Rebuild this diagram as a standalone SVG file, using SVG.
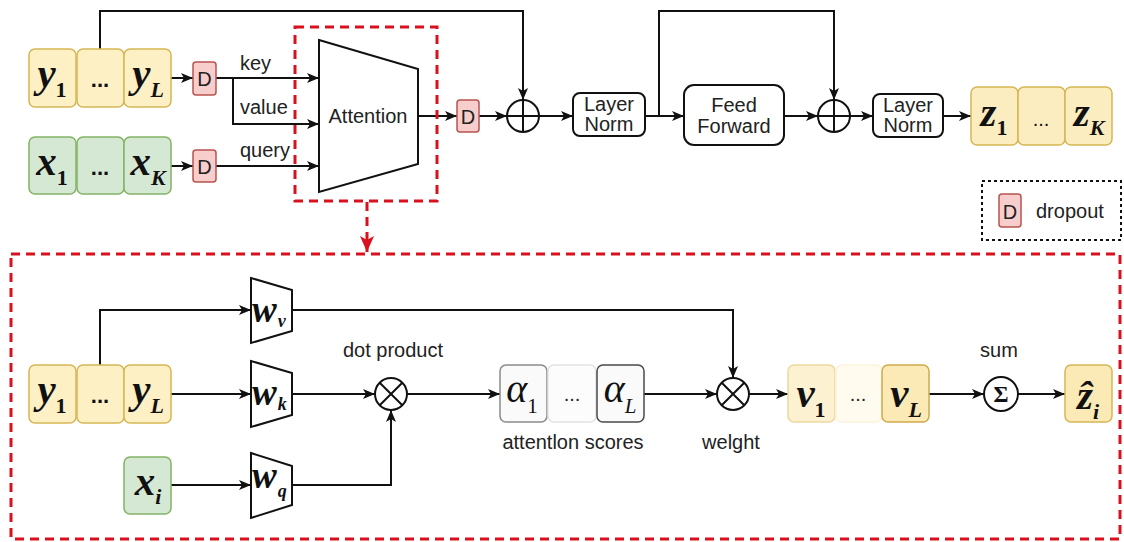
<svg xmlns="http://www.w3.org/2000/svg" width="1124" height="542" viewBox="0 0 1124 542">
<defs>
<marker id="ah" viewBox="0 0 12 10" refX="12" refY="5" markerWidth="12" markerHeight="10" orient="auto" markerUnits="userSpaceOnUse"><path d="M0,0 L12,5 L0,10 L3,5 z" fill="#111"/></marker>
<marker id="ahr" viewBox="0 0 16 14" refX="16" refY="7" markerWidth="16" markerHeight="14" orient="auto" markerUnits="userSpaceOnUse"><path d="M0,0 L16,7 L0,14 L4,7 z" fill="#d9101d"/></marker>
<style>
.ln{fill:none;stroke:#111;stroke-width:2;marker-end:url(#ah)}
.nl{fill:none;stroke:#111;stroke-width:2}
.red{fill:none;stroke:#d9101d;stroke-width:3;stroke-dasharray:9 6}
.yb{fill:#fdf0c4;stroke:#d6b656;stroke-width:1.5}
.gb{fill:#d5e8d4;stroke:#82b366;stroke-width:1.5}
.db{fill:#f8cecc;stroke:#b85450;stroke-width:1.5}
.bx{fill:#fff;stroke:#111;stroke-width:2}
.m{font-family:"Liberation Serif","Times New Roman",serif;font-weight:bold;font-style:italic;font-size:41px;text-anchor:middle;fill:#111}
.s{font-size:22px;font-style:normal}
.si{font-size:22px}
.w{font-family:"Liberation Serif","Times New Roman",serif;font-weight:bold;font-style:italic;font-size:37px;fill:#111}
.ws{font-size:18px}
.dots{font-family:"Liberation Sans",Arial,sans-serif;font-weight:bold;font-size:22px;text-anchor:middle;fill:#111}
.lt{font-family:"Liberation Sans",Arial,sans-serif;font-size:20px;fill:#222}
.c{text-anchor:middle}
.al{font-family:"Liberation Serif","Times New Roman",serif;font-style:italic;font-size:40px;text-anchor:middle;fill:#111}
</style>
</defs>

<g id="connectors">
<path class="ln" d="M171 78 H193"/>
<path class="ln" d="M216 78 H319"/>
<path class="ln" d="M233 78 V124 H319"/>
<path class="ln" d="M171 166 H193"/>
<path class="ln" d="M216 166 H319"/>
<path class="ln" d="M418 116 H457"/>
<path class="ln" d="M479 116 H507"/>
<path class="ln" d="M100 49 V11 H523 V100"/>
<path class="ln" d="M539 116 H573"/>
<path class="ln" d="M645 116 H684"/>
<path class="ln" d="M659 116 V11 H834 V100"/>
<path class="ln" d="M784 116 H818"/>
<path class="ln" d="M850 116 H873"/>
<path class="ln" d="M943 116 H971"/>
<path class="red" d="M367 202 V252" marker-end="url(#ahr)"/>
<path class="ln" d="M100 365 V310 H251"/>
<path class="ln" d="M171 394 H251"/>
<path class="ln" d="M171 485 H251"/>
<path class="ln" d="M292 394 H375"/>
<path class="ln" d="M292 485 H391 V410"/>
<path class="ln" d="M407 394 H500"/>
<path class="ln" d="M644 394 H717"/>
<path class="ln" d="M292 310 H733 V378"/>
<path class="ln" d="M749 394 H788"/>
<path class="ln" d="M929 394 H984"/>
<path class="ln" d="M1018 394 H1065"/>
</g>

<g id="label-key"><text class="lt" x="240" y="70">key</text></g>
<g id="label-value"><text class="lt" x="240" y="114">value</text></g>
<g id="label-query"><text class="lt" x="240" y="157">query</text></g>

<g id="y-top">
<rect class="yb" x="29" y="49" width="47" height="58" rx="6"/>
<rect class="yb" x="77" y="49" width="47" height="58" rx="6"/>
<rect class="yb" x="124" y="49" width="47" height="58" rx="6"/>
<text class="m" x="52" y="87">y<tspan class="s" dy="10">1</tspan></text>
<text class="dots" x="100" y="87">...</text>
<text class="m" x="148" y="87">y<tspan class="si" dy="10">L</tspan></text>
</g>

<g id="x-top">
<rect class="gb" x="29" y="137" width="47" height="57" rx="6"/>
<rect class="gb" x="77" y="137" width="47" height="57" rx="6"/>
<rect class="gb" x="124" y="137" width="47" height="57" rx="6"/>
<text class="m" x="52" y="175">x<tspan class="s" dy="10">1</tspan></text>
<text class="dots" x="100" y="175">...</text>
<text class="m" x="148" y="175">x<tspan class="si" dy="10">K</tspan></text>
</g>

<g id="dropout-y">
<rect class="db" x="193" y="62" width="23" height="33" rx="3"/>
<text class="lt c" x="204.5" y="86" fill="#111" font-size="21">D</text>
</g>
<g id="dropout-x">
<rect class="db" x="193" y="150" width="23" height="32" rx="3"/>
<text class="lt c" x="204.5" y="174" font-size="21">D</text>
</g>

<g id="attention-frame">
<rect class="red" x="295" y="27" width="142" height="174"/>
</g>
<g id="attention">
<polygon class="bx" points="319,40 418,69 418,164 319,192"/>
<text class="lt c" x="368" y="123" fill="#111">Attention</text>
</g>

<g id="dropout-att">
<rect class="db" x="457" y="100" width="22" height="32" rx="3"/>
<text class="lt c" x="468" y="124" font-size="21">D</text>
</g>

<g id="add1">
<circle class="bx" cx="523" cy="116" r="16"/>
<path class="nl" d="M523 100 V132 M507 116 H539"/>
</g>

<g id="layernorm1">
<rect class="bx" x="573" y="93" width="72" height="43" rx="7"/>
<text class="lt c" x="609" y="111" fill="#111">Layer</text>
<text class="lt c" x="609" y="131" fill="#111">Norm</text>
</g>

<g id="feedforward">
<rect class="bx" x="684" y="85" width="100" height="60" rx="10"/>
<text class="lt c" x="734" y="112" fill="#111">Feed</text>
<text class="lt c" x="734" y="133" fill="#111">Forward</text>
</g>

<g id="add2">
<circle class="bx" cx="834" cy="116" r="16"/>
<path class="nl" d="M834 100 V132 M818 116 H850"/>
</g>

<g id="layernorm2">
<rect class="bx" x="873" y="94" width="70" height="43" rx="7"/>
<text class="lt c" x="908" y="112" fill="#111">Layer</text>
<text class="lt c" x="908" y="132" fill="#111">Norm</text>
</g>

<g id="z-out">
<rect class="yb" x="971" y="87" width="47" height="58" rx="6" style="fill:#fbedbf"/>
<rect class="yb" x="1018" y="87" width="47" height="58" rx="6" style="fill:#fbedbf"/>
<rect class="yb" x="1065" y="87" width="47" height="58" rx="6" style="fill:#fbedbf"/>
<text class="m" x="994" y="126">z<tspan class="s" dy="9">1</tspan></text>
<text class="dots" x="1041" y="126" style="font-weight:normal;font-size:20px">...</text>
<text class="m" x="1089" y="126">z<tspan class="si" dy="9">K</tspan></text>
</g>

<g id="legend">
<rect x="982" y="181" width="139" height="59" fill="none" stroke="#111" stroke-width="2" stroke-dasharray="3 3"/>
<rect class="db" x="999" y="194" width="22" height="33" rx="3"/>
<text class="lt c" x="1010" y="219" fill="#111" font-size="21">D</text>
<text class="lt" x="1036" y="218" fill="#111">dropout</text>
</g>

<g id="detail-frame">
<rect class="red" x="11" y="254" width="1109" height="285"/>
</g>

<g id="y-bottom">
<rect class="yb" x="29" y="365" width="47" height="58" rx="6"/>
<rect class="yb" x="77" y="365" width="47" height="58" rx="6"/>
<rect class="yb" x="124" y="365" width="47" height="58" rx="6"/>
<text class="m" x="52" y="403">y<tspan class="s" dy="10">1</tspan></text>
<text class="dots" x="100" y="403">...</text>
<text class="m" x="148" y="403">y<tspan class="si" dy="10">L</tspan></text>
</g>

<g id="x-i">
<rect class="gb" x="124" y="457" width="47" height="57" rx="6"/>
<text class="m" x="148" y="495">x<tspan class="si" dy="9">i</tspan></text>
</g>

<g id="w-v">
<polygon class="bx" points="251,278 292,290 292,331 251,343"/>
<text class="w" x="252" y="322">w<tspan class="ws" dx="1" dy="5">v</tspan></text>
</g>
<g id="w-k">
<polygon class="bx" points="251,361 292,373 292,415 251,427"/>
<text class="w" x="252" y="405">w<tspan class="ws" dx="1" dy="5">k</tspan></text>
</g>
<g id="w-q">
<polygon class="bx" points="251,453 292,466 292,505 251,518"/>
<text class="w" x="252" y="488">w<tspan class="ws" dx="1" dy="9">q</tspan></text>
</g>

<g id="dot-product">
<circle class="bx" cx="391" cy="394" r="16"/>
<path class="nl" d="M379.7 382.7 L402.3 405.3 M402.3 382.7 L379.7 405.3"/>
<text class="lt c" x="393" y="357">dot product</text>
</g>

<g id="attention-scores">
<rect x="500" y="365" width="47" height="57" rx="6" fill="#fafafa" stroke="#8a8a8a" stroke-width="1.5"/>
<rect x="548" y="365" width="48" height="57" rx="6" fill="#fcfcfc" stroke="#e2e2e2" stroke-width="1.5"/>
<rect x="597" y="365" width="47" height="57" rx="6" fill="#fafafa" stroke="#4a4a4a" stroke-width="1.5"/>
<text class="al" x="522" y="402">α<tspan font-size="21" font-style="normal" dy="11">1</tspan></text>
<text class="lt c" x="572" y="401">...</text>
<text class="al" x="620" y="402">α<tspan font-size="21" dy="11">L</tspan></text>
<text class="lt c" x="573" y="449">attentlon scores</text>
</g>

<g id="weight">
<circle class="bx" cx="733" cy="394" r="16"/>
<path class="nl" d="M721.7 382.7 L744.3 405.3 M744.3 382.7 L721.7 405.3"/>
<text class="lt c" x="731" y="449">welght</text>
</g>

<g id="v-values">
<rect x="788" y="365" width="47" height="57" rx="6" fill="#fcf1d0" stroke="#ecd9a0" stroke-width="1.5"/>
<rect x="836" y="365" width="46" height="57" rx="6" fill="#fffbef" stroke="#fbf3dc" stroke-width="1.5"/>
<rect x="882" y="365" width="47" height="57" rx="6" fill="#fbe9b6" stroke="#cfab4c" stroke-width="1.5"/>
<text class="m" x="811" y="407">v<tspan class="s" dy="10">1</tspan></text>
<text class="lt c" x="858" y="401">...</text>
<text class="m" x="906" y="407">v<tspan class="si" dy="10">L</tspan></text>
</g>

<g id="sum">
<circle class="bx" cx="1001" cy="394" r="17"/>
<text x="1001" y="402" text-anchor="middle" font-family="Liberation Serif,serif" font-size="23" font-weight="bold" fill="#111">Σ</text>
<text class="lt c" x="999" y="357">sum</text>
</g>

<g id="z-hat">
<rect x="1065" y="365" width="47" height="57" rx="6" fill="#fbe9b6" stroke="#d6b656" stroke-width="1.5"/>
<text class="m" x="1088" y="409">ẑ<tspan class="si" dy="10">i</tspan></text>
</g>
</svg>
